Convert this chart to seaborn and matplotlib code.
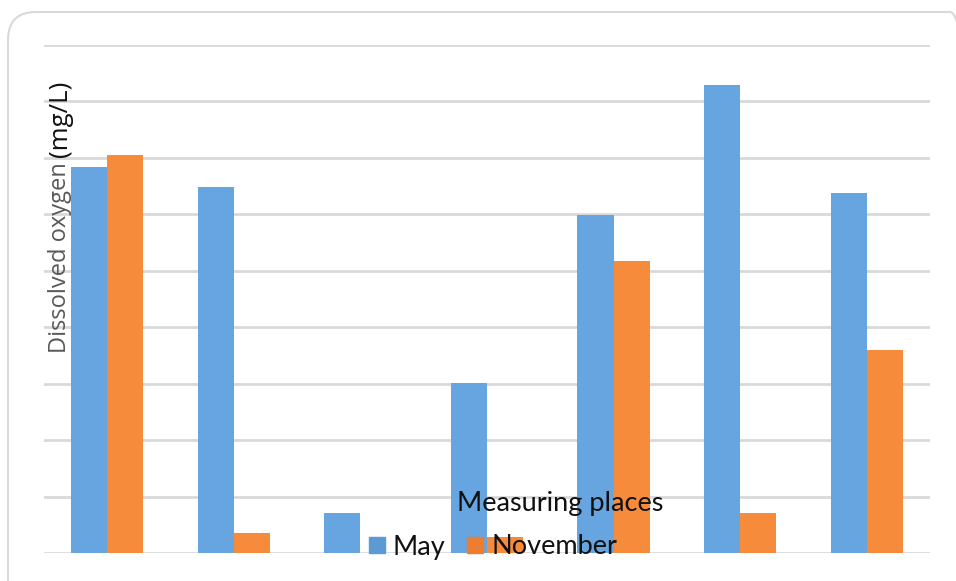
import matplotlib
matplotlib.use("Agg")
import matplotlib.pyplot as plt
from matplotlib.patches import FancyBboxPatch
from matplotlib.lines import Line2D
import seaborn as sns
import pandas as pd

places = ["P1", "P2", "P3", "P4", "P5", "P6", "P7"]
may = [6.84, 6.49, 0.71, 3.01, 5.99, 8.30, 6.38]
november = [7.06, 0.35, 0.0, 0.28, 5.18, 0.71, 3.60]
months = ["May", "November"]

df = pd.DataFrame({
    "place": places * 2,
    "value": may + november,
    "month": [months[0]] * len(places) + [months[1]] * len(places),
})

sns.set_theme(style="white")
plt.rcParams["font.family"] = ["Lato", "DejaVu Sans"]

fig = plt.figure(figsize=(9.56, 5.81), dpi=100)
ax = fig.add_axes([44 / 956, 1 - 553 / 581, (930 - 44) / 956, (553 - 45) / 581])

colors = {"May": "#66A5E0", "November": "#F68B3B"}
sns.barplot(data=df, x="place", y="value", hue="month", palette=colors,
            width=0.57, ax=ax, legend=False, saturation=1, linewidth=0)

ax.set_ylim(0, 9)
ax.set_xlim(-0.5, len(places) - 0.5)
ax.set_yticks(range(0, 10))
ax.yaxis.grid(True, color="#d9d9d9", linewidth=2)
ax.set_axisbelow(True)
for s in ax.spines.values():
    s.set_visible(False)
ax.tick_params(left=False, bottom=False, labelleft=False, labelbottom=False)
ax.set_xlabel("")
ax.set_ylabel("")

# y label in two styles
fig.text(60 / 956, 1 - 258 / 581, "Dissolved oxygen", rotation=90, ha="center", va="center",
         fontsize=17, color="#595959", family=["Open Sans", "DejaVu Sans"])
fig.text(60 / 956, 1 - 119 / 581, "(mg/L)", rotation=90, ha="center", va="center",
         fontsize=18.5, color="#111111", family=["Open Sans", "DejaVu Sans"])

# legend
fig.text(560 / 956, 1 - 503 / 581, "Measuring places", ha="center", va="center",
         fontsize=19.5, color="#111111")
handles = [Line2D([], [], marker="s", linestyle="", markersize=12, color="#5B9BD5"),
           Line2D([], [], marker="s", linestyle="", markersize=12, color="#ED7D31")]
leg = fig.legend(handles, months, loc="center", bbox_to_anchor=(493 / 956, 1 - 547 / 581),
                 ncol=2, frameon=False, fontsize=19.5, handlelength=0.6, handletextpad=0.3,
                 columnspacing=0.8, labelcolor="#111111")

# rounded outer border
border = FancyBboxPatch((0.08, -0.3), 9.7, 5.99, boxstyle="round,pad=0,rounding_size=0.28",
                        transform=fig.dpi_scale_trans, facecolor="none",
                        edgecolor="#d9d9d9", linewidth=1.5)
fig.patches.append(border)

fig.savefig("out.png", dpi=100)
